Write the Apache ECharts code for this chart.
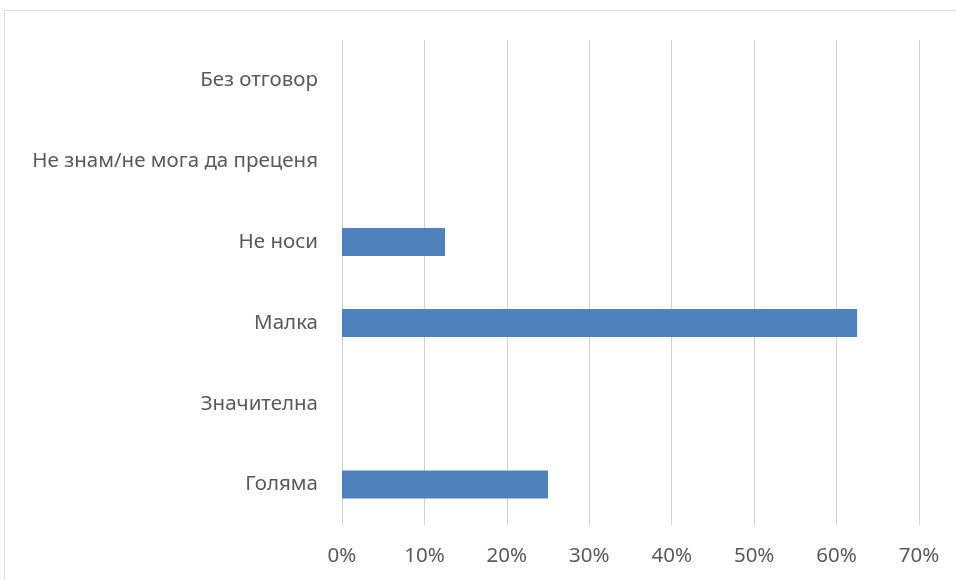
<!DOCTYPE html>
<html lang="bg">

<head>
  <meta charset="UTF-8">
  <title>Bar chart</title>
  <style>
    * {
      margin: 0;
      padding: 0;
    }
  </style>
  <script src="https://cdn.jsdelivr.net/npm/echarts@6/dist/echarts.min.js"></script>
</head>

<body>
  <div id="chart" style="width: 956px; height: 580px;"></div>
  <script>
    const chart = echarts.init(document.getElementById('chart'))

    // категории (отдолу нагоре) и стойности в %
    const categories = ['Голяма', 'Значителна', 'Малка', 'Не носи', 'Не знам/не мога да преценя', 'Без отговор']
    const values = [25, 0, 62.5, 12.5, 0, 0]

    const textColor = '#595959'
    const font = 'Noto Sans'

    const option = {
      backgroundColor: '#fff',
      graphic: [{
        type: 'rect',
        shape: { x: 4.5, y: 10.5, width: 1000, height: 1000 },
        style: { fill: 'none', stroke: '#d9d9d9', lineWidth: 1 },
        silent: true
      }],
      grid: { left: 342, right: 37, top: 40, bottom: 55 },
      xAxis: {
        type: 'value',
        min: 0,
        max: 70,
        interval: 10,
        axisLine: { show: false },
        axisTick: { show: false },
        splitLine: { lineStyle: { color: '#d0d0d0', width: 1 } },
        axisLabel: {
          formatter: '{value}%',
          color: textColor,
          fontSize: 20.5,
          fontFamily: font,
          margin: 21
        }
      },
      yAxis: {
        type: 'category',
        data: categories,
        axisLine: { show: false },
        axisTick: { show: false },
        axisLabel: {
          color: textColor,
          fontSize: 20.5,
          fontFamily: font,
          margin: 24
        }
      },
      series: [{
        type: 'bar',
        data: values,
        barWidth: 28,
        itemStyle: { color: '#4f81bd' }
      }]
    }

    chart.setOption(option)
  </script>
</body>

</html>
